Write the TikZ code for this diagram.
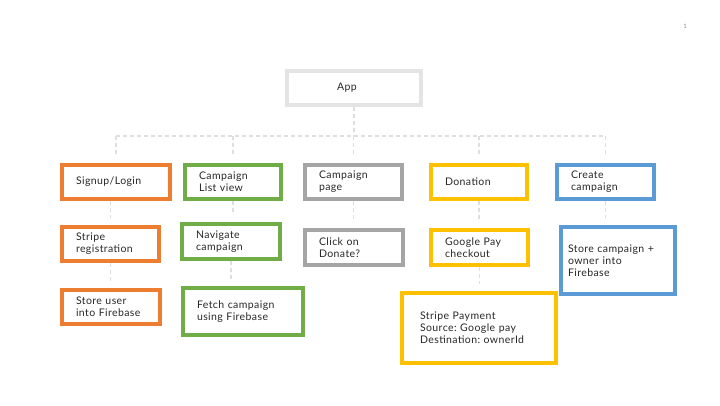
\documentclass[tikz,border=0pt]{standalone}
\usepackage{fontspec}
\setmainfont{Lato}[LetterSpace=4]
\usetikzlibrary{positioning}
\definecolor{appgray}{HTML}{E4E4E4}
\definecolor{boxorange}{HTML}{ED7D31}
\definecolor{boxgreen}{HTML}{70AD47}
\definecolor{boxgray}{HTML}{A5A5A5}
\definecolor{boxyellow}{HTML}{FFC000}
\definecolor{boxblue}{HTML}{5B9BD5}
\definecolor{linkgray}{HTML}{DEDEDE}
\frenchspacing

\begin{document}
\begin{tikzpicture}[x=1pt,y=-1pt,
	box/.style={draw=#1, line width=4pt, rectangle, align=left, inner xsep=14pt,
		font=\fontsize{10.5}{12}\selectfont, text=black!85},
	link/.style={draw=linkgray, line width=1.5pt, dash pattern=on 4pt off 3pt, shorten >=7pt}]
	%% canvas
	\useasboundingbox (0,0) rectangle (720,405);
	\node[text=black!45, font=\fontsize{6}{7}\selectfont, inner sep=0pt] (pagenum) at (685,26) {1};

	%% top
	\node[box=appgray, inner xsep=50pt, text width=34pt, minimum height=34pt] (app) at (354,88) {App};

	%% first row
	\node[box=boxorange, text width=80pt, minimum height=34pt] (signup) at (116,182) {Signup/Login};
	\node[box=boxgreen, text width=68pt, minimum height=34pt] (list) at (233,182) {Campaign\\List view};
	\node[box=boxgray, text width=69pt, minimum height=34pt] (page) at (353.5,182) {Campaign\\page};
	\node[box=boxyellow, text width=68pt, minimum height=34pt] (donation) at (479,182) {Donation};
	\node[box=boxblue, text width=69pt, minimum height=34pt] (create) at (605.5,182) {Create\\campaign};

	%% second row
	\node[box=boxorange, text width=69pt, minimum height=34pt] (stripereg) at (110.5,244) {Stripe\\registration};
	\node[box=boxgreen, text width=70pt, minimum height=35pt] (navigate) at (231,241.5) {Navigate\\campaign};
	\node[box=boxgray, text width=70pt, minimum height=35pt] (click) at (354,247.5) {Click on\\Donate?};
	\node[box=boxyellow, text width=69pt, minimum height=35pt] (gpay) at (479.5,247.5) {Google Pay\\checkout};
	\node[box=boxblue, inner xsep=7pt, text width=100pt, minimum height=67pt] (storecamp) at (618,260.5) {Store campaign +\\owner into\\Firebase};

	%% third row
	\node[box=boxorange, text width=70pt, minimum height=34pt] (storeuser) at (111,307) {Store user\\into Firebase};
	\node[box=boxgreen, text width=92pt, minimum height=47pt] (fetch) at (243,311.5) {Fetch campaign\\using Firebase};
	\node[box=boxyellow, inner xsep=18pt, text width=118pt, minimum height=70pt] (stripepay) at (479,328) {Stripe Payment\\Source: Google pay\\Destination: ownerId};

	%% tree
	\coordinate (bus) at (354,136);
	\draw[link, shorten >=0pt] (app.south) -- (bus);
	\draw[link, shorten >=0pt] (signup.north |- bus) -- (create.north |- bus);
	\foreach \n in {signup,list,page,donation,create}
		\draw[link] (\n.north |- bus) -- (\n.north);

	%% columns
	\draw[link] (signup.south -| stripereg) -- (stripereg.north);
	\draw[link] (stripereg.south) -- (stripereg.south |- storeuser.north);
	\draw[link] (list.south) -- (list.south |- navigate.north);
	\draw[link] (navigate.south) -- (navigate.south |- fetch.north);
	\draw[link] (page.south) -- (page.south |- click.north);
	\draw[link] (donation.south) -- (donation.south |- gpay.north);
	\draw[link] (gpay.south) -- (gpay.south |- stripepay.north);
	\draw[link] (create.south) -- (create.south |- storecamp.north);
\end{tikzpicture}
\end{document}
